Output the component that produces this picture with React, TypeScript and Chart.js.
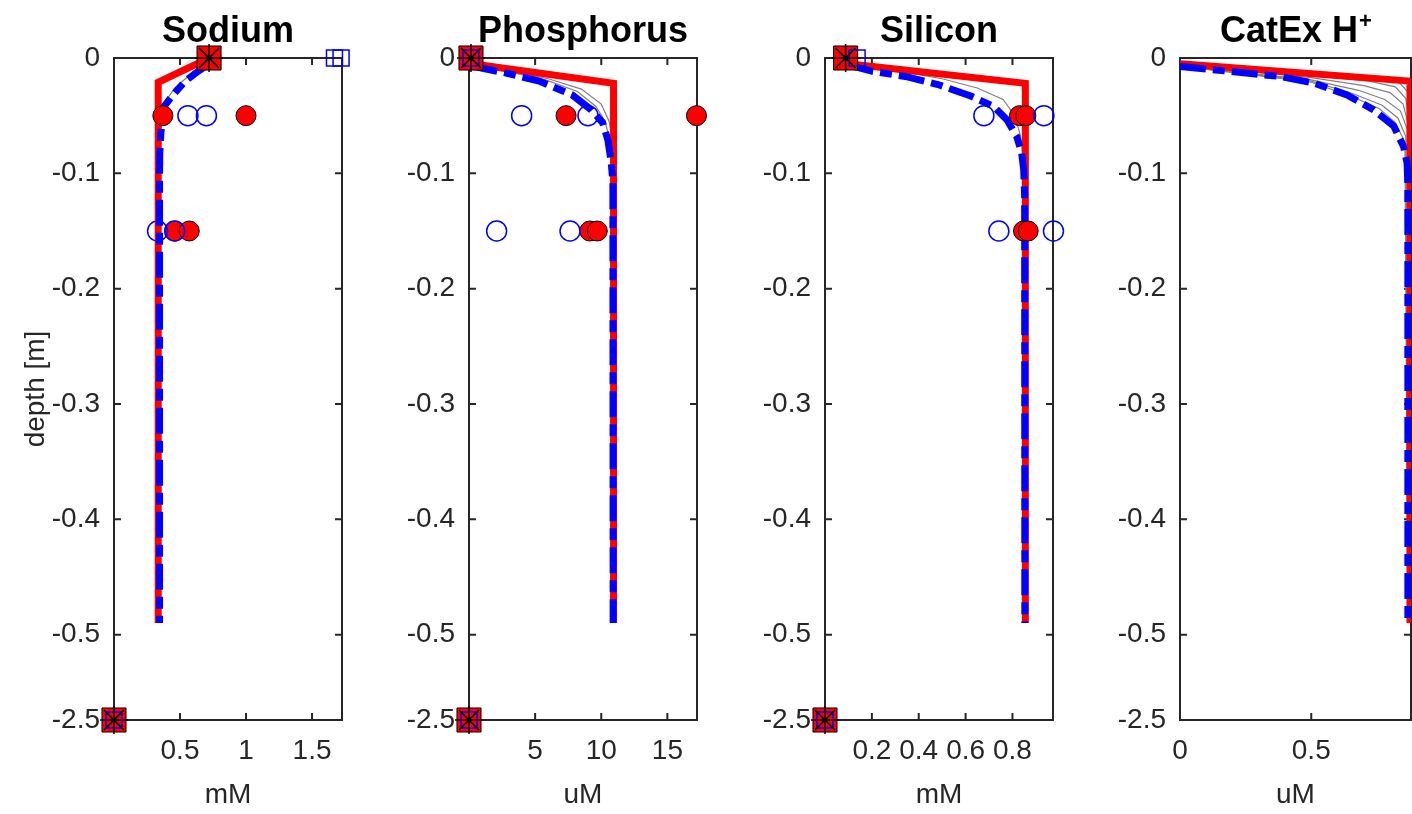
import React, { useEffect, useRef } from 'react';
import { Chart, registerables } from 'chart.js';

Chart.register(...registerables);

// ---------------- DATA ----------------
// depth axis (broken axis: -2.5 shown one short step below -0.5)
const Y_TICK_VALUES = [0, -0.1, -0.2, -0.3, -0.4, -0.5, -2.5];
const Y_TICK_LABELS = ['0', '-0.1', '-0.2', '-0.3', '-0.4', '-0.5', '-2.5'];

const TITLES = ['Sodium', 'Phosphorus', 'Silicon', 'CatEx H'];
const TITLE_SUPS = ['', '', '', '+'];
const UNITS = ['mM', 'uM', 'mM', 'uM'];
const X_MAX = [1.727, 17.24, 0.973, 0.88];
const X_TICKS = [[0.5, 1, 1.5], [5, 10, 15], [0.2, 0.4, 0.6, 0.8], [0, 0.5]];

// Sodium
const NA_INIT_X = [0.72, 0.335, 0.335];
const NA_INIT_D = [0, -0.021, -0.49];
const NA_FINAL_X = [0.72, 0.62, 0.54, 0.44, 0.38, 0.355, 0.347, 0.345, 0.345];
const NA_FINAL_D = [-0.005, -0.013, -0.02, -0.033, -0.042, -0.065, -0.082, -0.1, -0.49];
const NA_MID_X = [[0.72, 0.56, 0.46, 0.4, 0.365, 0.35, 0.345, 0.345]];
const NA_MID_D = [[0, -0.016, -0.026, -0.036, -0.049, -0.07, -0.1, -0.49]];
const NA_OBS_RED_X = [0.37, 1.0, 0.46, 0.57];
const NA_OBS_RED_D = [-0.05, -0.05, -0.15, -0.15];
const NA_OBS_BLUE_X = [0.56, 0.7, 0.33, 0.46];
const NA_OBS_BLUE_D = [-0.05, -0.05, -0.15, -0.15];
const NA_BC_RED_X = [0.72, 0];
const NA_BC_RED_D = [0, -2.5];
const NA_BC_BLUE_X = [1.67, 1.72, 0];
const NA_BC_BLUE_D = [0, 0, -2.5];

// Phosphorus
const P_INIT_X = [0.2, 10.93, 10.93];
const P_INIT_D = [-0.005, -0.022, -0.49];
const P_FINAL_X = [0.2, 2.8, 5.3, 7.8, 9.25, 10.1, 10.5, 10.75, 10.88, 10.9];
const P_FINAL_D = [-0.007, -0.013, -0.02, -0.032, -0.045, -0.056, -0.071, -0.09, -0.108, -0.49];
const P_MID_X = [
  [0.2, 3, 6, 8.5, 10.0, 10.6, 10.8, 10.88, 10.9],
  [0.2, 3, 5.8, 8.2, 9.6, 10.3, 10.65, 10.82, 10.88],
];
const P_MID_D = [
  [-0.006, -0.011, -0.018, -0.027, -0.04, -0.055, -0.07, -0.09, -0.49],
  [-0.007, -0.012, -0.019, -0.029, -0.042, -0.055, -0.072, -0.09, -0.11],
];
const P_OBS_RED_X = [7.34, 17.2, 9.13, 9.7];
const P_OBS_RED_D = [-0.05, -0.05, -0.15, -0.15];
const P_OBS_BLUE_X = [3.98, 9.0, 2.09, 7.64];
const P_OBS_BLUE_D = [-0.05, -0.05, -0.15, -0.15];
const P_BC_RED_X = [0.15, 0];
const P_BC_RED_D = [0, -2.5];
const P_BC_BLUE_X = [0.15, 0];
const P_BC_BLUE_D = [0, -2.5];

// Silicon
const SI_INIT_X = [0.098, 0.855, 0.855];
const SI_INIT_D = [-0.005, -0.022, -0.49];
const SI_FINAL_X = [0.098, 0.203, 0.343, 0.482, 0.622, 0.72, 0.776, 0.818, 0.839, 0.848, 0.852, 0.853];
const SI_FINAL_D = [-0.006, -0.0116, -0.016, -0.023, -0.033, -0.042, -0.0535, -0.068, -0.082, -0.097, -0.12, -0.49];
const SI_MID_X = [[0.098, 0.3, 0.5, 0.65, 0.76, 0.81, 0.835, 0.847, 0.852]];
const SI_MID_D = [[-0.005, -0.011, -0.018, -0.026, -0.036, -0.05, -0.068, -0.09, -0.12]];
const SI_OBS_RED_X = [0.83, 0.857, 0.847, 0.867];
const SI_OBS_RED_D = [-0.05, -0.05, -0.15, -0.15];
const SI_OBS_BLUE_X = [0.678, 0.934, 0.742, 0.975];
const SI_OBS_BLUE_D = [-0.05, -0.05, -0.15, -0.15];
const SI_BC_RED_X = [0.088, 0];
const SI_BC_RED_D = [0, -2.5];
const SI_BC_BLUE_X = [0.137, 0];
const SI_BC_BLUE_D = [0, -2.5];

// CatEx H+
const H_INIT_X = [0, 0.876, 0.876];
const H_INIT_D = [-0.005, -0.02, -0.49];
const H_FINAL_X = [0, 0.19, 0.38, 0.509, 0.636, 0.738, 0.814, 0.852, 0.865, 0.868, 0.868];
const H_FINAL_D = [-0.0073, -0.0116, -0.016, -0.0217, -0.032, -0.045, -0.059, -0.077, -0.091, -0.11, -0.49];
const H_MID_X = [
  [0, 0.5, 0.75, 0.83, 0.87, 0.875, 0.875],
  [0, 0.5, 0.72, 0.82, 0.86, 0.873, 0.874],
  [0, 0.5, 0.7, 0.8, 0.85, 0.87, 0.872],
  [0, 0.5, 0.68, 0.78, 0.84, 0.866, 0.87],
  [0, 0.5, 0.66, 0.77, 0.83, 0.86, 0.869],
  [0, 0.5, 0.65, 0.76, 0.82, 0.857, 0.868],
];
const H_MID_D = [
  [-0.005, -0.013, -0.017, -0.02, -0.03, -0.05, -0.49],
  [-0.006, -0.015, -0.02, -0.025, -0.035, -0.055, -0.49],
  [-0.006, -0.017, -0.024, -0.03, -0.04, -0.058, -0.49],
  [-0.007, -0.019, -0.028, -0.036, -0.046, -0.062, -0.49],
  [-0.007, -0.02, -0.031, -0.041, -0.052, -0.068, -0.49],
  [-0.007, -0.021, -0.033, -0.044, -0.056, -0.073, -0.49],
];
const H_EMPTY: number[] = [];

// ---------------- LAYOUT / STYLE ----------------
const FONT = '"Liberation Sans", Arial, Helvetica, sans-serif';
const AX = '#262626';
const PANEL_LEFT = [114, 469, 825, 1180];
const PANEL_W = [232, 232, 232, 231];
const AXIS_W = [114, 100, 100, 100];
const RIGHT_PAD = [14, 14, 14, 1];
const TOP = 58;
const BOTTOM = 720;
const H = 814;
const DEEP_AXIS_POS = -0.574;

const depthToAxis = (d: number) => (d < -0.5 ? DEEP_AXIS_POS : d);
const pts = (xs: number[], ds: number[]) => xs.map((x, i) => ({ x, y: depthToAxis(ds[i]) }));

const PANELS = [
  { init: [NA_INIT_X, NA_INIT_D], fin: [NA_FINAL_X, NA_FINAL_D], mid: [NA_MID_X, NA_MID_D], red: [NA_OBS_RED_X, NA_OBS_RED_D], blue: [NA_OBS_BLUE_X, NA_OBS_BLUE_D], bcr: [NA_BC_RED_X, NA_BC_RED_D], bcb: [NA_BC_BLUE_X, NA_BC_BLUE_D] },
  { init: [P_INIT_X, P_INIT_D], fin: [P_FINAL_X, P_FINAL_D], mid: [P_MID_X, P_MID_D], red: [P_OBS_RED_X, P_OBS_RED_D], blue: [P_OBS_BLUE_X, P_OBS_BLUE_D], bcr: [P_BC_RED_X, P_BC_RED_D], bcb: [P_BC_BLUE_X, P_BC_BLUE_D] },
  { init: [SI_INIT_X, SI_INIT_D], fin: [SI_FINAL_X, SI_FINAL_D], mid: [SI_MID_X, SI_MID_D], red: [SI_OBS_RED_X, SI_OBS_RED_D], blue: [SI_OBS_BLUE_X, SI_OBS_BLUE_D], bcr: [SI_BC_RED_X, SI_BC_RED_D], bcb: [SI_BC_BLUE_X, SI_BC_BLUE_D] },
  { init: [H_INIT_X, H_INIT_D], fin: [H_FINAL_X, H_FINAL_D], mid: [H_MID_X, H_MID_D], red: [H_EMPTY, H_EMPTY], blue: [H_EMPTY, H_EMPTY], bcr: [H_EMPTY, H_EMPTY], bcb: [H_EMPTY, H_EMPTY] },
];

const framePlugin = {
  id: 'matlabFrame',
  beforeDatasetsDraw(chart: any) {
    const { ctx, chartArea: a, scales } = chart;
    const tl = 7;
    ctx.save();
    ctx.strokeStyle = AX;
    ctx.lineWidth = 2;
    ctx.beginPath();
    for (const t of scales.x.ticks) {
      const px = scales.x.getPixelForValue(t.value);
      ctx.moveTo(px, a.bottom); ctx.lineTo(px, a.bottom - tl);
      ctx.moveTo(px, a.top); ctx.lineTo(px, a.top + tl);
    }
    for (const t of scales.y.ticks) {
      const py = scales.y.getPixelForValue(t.value);
      ctx.moveTo(a.left, py); ctx.lineTo(a.left + tl, py);
      ctx.moveTo(a.right, py); ctx.lineTo(a.right - tl, py);
    }
    ctx.stroke();
    ctx.strokeRect(a.left, a.top, a.right - a.left, a.bottom - a.top);
    ctx.restore();
  },
};

const titlePlugin = {
  id: 'panelTitle',
  afterDraw(chart: any, _args: any, opts: any) {
    const { ctx, chartArea: a } = chart;
    ctx.save();
    ctx.fillStyle = '#000';
    ctx.textBaseline = 'alphabetic';
    ctx.font = `bold 36px ${FONT}`;
    const mainW = ctx.measureText(opts.text).width;
    ctx.font = `bold 22px ${FONT}`;
    const supW = opts.sup ? ctx.measureText(opts.sup).width : 0;
    const cx = (a.left + a.right) / 2;
    const x0 = cx - (mainW + supW) / 2;
    ctx.textAlign = 'left';
    ctx.font = `bold 36px ${FONT}`;
    ctx.fillText(opts.text, x0, 42);
    if (opts.sup) {
      ctx.font = `bold 22px ${FONT}`;
      ctx.fillText(opts.sup, x0 + mainW + 1, 28);
    }
    ctx.restore();
  },
};

function buildConfig(i: number): any {
  const p = PANELS[i];
  const layers: any[] = [];
  p.mid[0].forEach((xs: number[], k: number) => {
    layers.push({ data: pts(xs, p.mid[1][k]), showLine: true, borderColor: '#808080', borderWidth: 1.2, pointRadius: 0 });
  });
  layers.push({ data: pts(p.init[0], p.init[1]), showLine: true, borderColor: '#ff0000', borderWidth: 7, pointRadius: 0, borderJoinStyle: 'miter' });
  layers.push({ data: pts(p.fin[0], p.fin[1]), showLine: true, borderColor: '#0000ff', borderWidth: 7, borderDash: [26, 7, 12, 7], borderCapStyle: 'butt', pointRadius: 0 });
  layers.push({ data: pts(p.red[0], p.red[1]), showLine: false, pointStyle: 'circle', pointRadius: 10, backgroundColor: '#ff0000', borderColor: '#000', borderWidth: 1, clip: false });
  layers.push({ data: pts(p.blue[0], p.blue[1]), showLine: false, pointStyle: 'circle', pointRadius: 10, backgroundColor: 'rgba(0,0,0,0)', borderColor: '#0000ff', borderWidth: 1.5, clip: false });
  layers.push({ data: pts(p.bcr[0], p.bcr[1]), showLine: false, pointStyle: 'rect', pointRadius: 17, backgroundColor: '#ff0000', borderColor: '#000', borderWidth: 1, clip: false });
  layers.push({ data: pts(p.bcb[0], p.bcb[1]), showLine: false, pointStyle: 'rect', pointRadius: 11.3, backgroundColor: 'rgba(0,0,0,0)', borderColor: '#0000ff', borderWidth: 1.5, clip: false });
  layers.push({ data: pts(p.bcr[0], p.bcr[1]), showLine: false, pointStyle: 'star', pointRadius: 14, borderColor: '#000', borderWidth: 1.5, clip: false });
  const datasets = layers.reverse();

  const tickFont = { family: FONT, size: 28 };
  return {
    type: 'scatter',
    data: { datasets },
    options: {
      animation: false,
      responsive: false,
      devicePixelRatio: 1,
      events: [],
      layout: { padding: { top: TOP, left: 0, right: RIGHT_PAD[i], bottom: 0 } },
      plugins: {
        legend: { display: false },
        tooltip: { enabled: false },
        panelTitle: { text: TITLES[i], sup: TITLE_SUPS[i] },
      },
      elements: { line: { tension: 0 } },
      scales: {
        x: {
          type: 'linear',
          min: 0,
          max: X_MAX[i],
          afterBuildTicks: (s: any) => { s.ticks = X_TICKS[i].map((v) => ({ value: v })); },
          afterFit: (s: any) => { s.height = H - BOTTOM; },
          ticks: { font: tickFont, color: AX, padding: 14, autoSkip: false, maxRotation: 0, minRotation: 0, callback: (v: any) => String(v) },
          grid: { display: false, drawTicks: false },
          border: { display: false },
          title: { display: true, text: UNITS[i], font: tickFont, color: AX, padding: { top: 0, bottom: 2 } },
        },
        y: {
          type: 'linear',
          min: DEEP_AXIS_POS,
          max: 0,
          afterBuildTicks: (s: any) => { s.ticks = Y_TICK_VALUES.map((v) => ({ value: depthToAxis(v) })); },
          afterFit: (s: any) => { s.width = AXIS_W[i]; },
          ticks: { font: tickFont, color: AX, padding: 14, autoSkip: false, callback: (_v: any, idx: number) => Y_TICK_LABELS[idx] },
          grid: { display: false, drawTicks: false },
          border: { display: false },
          title: i === 0
            ? { display: true, text: 'depth [m]', font: tickFont, color: AX, padding: { top: 19, bottom: 0 } }
            : { display: false },
        },
      },
    },
    plugins: [framePlugin, titlePlugin],
  };
}

function Panel({ idx }: { idx: number }) {
  const ref = useRef<HTMLCanvasElement>(null);
  const w = AXIS_W[idx] + PANEL_W[idx] + RIGHT_PAD[idx];
  const left = PANEL_LEFT[idx] - AXIS_W[idx];
  useEffect(() => {
    const chart = new Chart(ref.current as HTMLCanvasElement, buildConfig(idx));
    return () => chart.destroy();
  }, [idx]);
  return (
    <canvas
      ref={ref}
      width={w}
      height={H}
      style={{ position: 'absolute', left, top: 0, width: w, height: H }}
    />
  );
}

export default function App() {
  return (
    <div style={{ position: 'absolute', left: 0, top: 0, width: 1412, height: H, background: '#fff', overflow: 'hidden' }}>
      {[0, 1, 2, 3].map((i) => (
        <Panel key={i} idx={i} />
      ))}
    </div>
  );
}
